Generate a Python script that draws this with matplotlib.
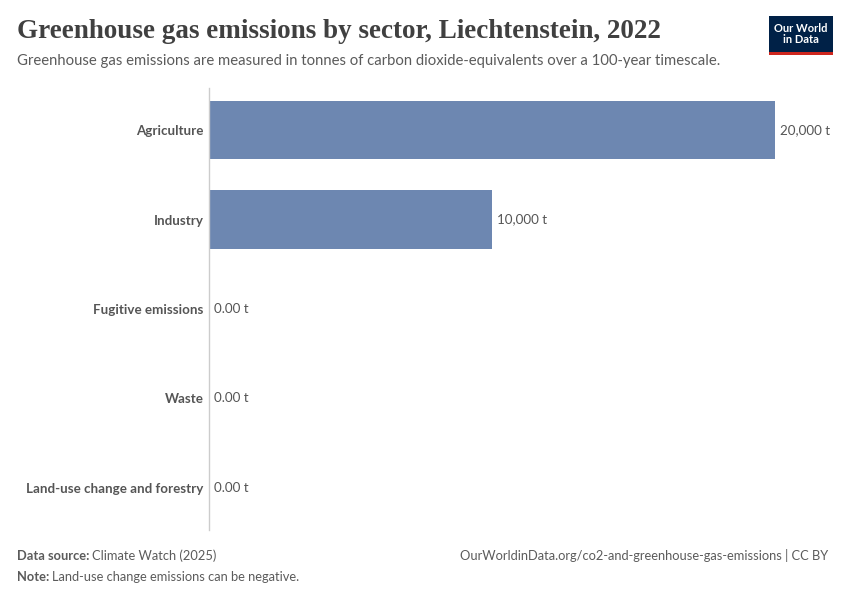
import matplotlib
matplotlib.use("Agg")
import matplotlib.pyplot as plt
from matplotlib.patches import Rectangle

sectors = ["Agriculture", "Industry", "Fugitive emissions", "Waste", "Land-use change and forestry"]
values = [20000, 10000, 0, 0, 0]
value_labels = ["20,000 t", "10,000 t", "0.00 t", "0.00 t", "0.00 t"]

title = "Greenhouse gas emissions by sector, Liechtenstein, 2022"
subtitle = "Greenhouse gas emissions are measured in tonnes of carbon dioxide-equivalents over a 100-year timescale."

W, H = 850, 600
fig = plt.figure(figsize=(W / 100, H / 100), dpi=100)
fig.patch.set_facecolor("white")

left, right, top, bottom = 209, 775, 88, 530
ax = fig.add_axes([left / W, 1 - bottom / H, (right - left) / W, (bottom - top) / H])

ypos = list(range(len(sectors)))
ax.barh(ypos, values, height=0.65, color="#6d87b1", zorder=2)
ax.set_xlim(0, 20000)
ax.set_ylim(4.47, -0.47)
for s in ["top", "right", "bottom"]:
    ax.spines[s].set_visible(False)
ax.spines["left"].set_color("#cccccc")
ax.spines["left"].set_linewidth(1)
ax.set_xticks([])
ax.set_yticks(ypos)
ax.set_yticklabels(sectors, fontfamily="Lato", fontweight="bold", fontsize=9.6, color="#555555")
ax.tick_params(axis="y", length=0, pad=4)

for y, v, lab in zip(ypos, values, value_labels):
    ax.annotate(lab, xy=(v, y), xytext=(3.5, 0), textcoords="offset points",
                va="center", ha="left", fontfamily="Lato", fontsize=9.6, color="#555555", clip_on=False)

fig.text(17 / W, 1 - 32 / H, title, fontfamily="Liberation Serif", fontsize=19.5,
         color="#404040", va="center", ha="left", fontweight="bold")
fig.text(17 / W, 1 - 61 / H, subtitle, fontfamily="Lato", fontsize=10.75, color="#5b5b5b",
         va="center", ha="left")

renderer = fig.canvas.get_renderer()
fs_foot = 9.3

def label_pair(x, y, bold, rest):
    t = fig.text(x / W, 1 - y / H, bold, fontfamily="Lato", fontsize=fs_foot, color="#5b5b5b",
                 fontweight="bold", va="center", ha="left")
    bb = t.get_window_extent(renderer=renderer)
    fig.text((bb.x1 + 3) / W, 1 - y / H, rest, fontfamily="Lato", fontsize=fs_foot, color="#5b5b5b",
             va="center", ha="left")

label_pair(17, 556, "Data source:", "Climate Watch (2025)")
label_pair(17, 577, "Note:", "Land-use change emissions can be negative.")
fig.text(828 / W, 1 - 556 / H, "OurWorldinData.org/co2-and-greenhouse-gas-emissions | CC BY",
         fontfamily="Lato", fontsize=fs_foot, color="#5b5b5b", va="center", ha="right")

# logo
lx0, ly0, lw, lh = 769, 16, 64, 36
fig.patches.append(Rectangle((lx0 / W, 1 - (ly0 + lh) / H), lw / W, lh / H,
                             transform=fig.transFigure, facecolor="#002147", edgecolor="none"))
fig.patches.append(Rectangle((lx0 / W, 1 - (ly0 + lh + 3) / H), lw / W, 3 / H,
                             transform=fig.transFigure, facecolor="#ce261e", edgecolor="none"))
fig.text((lx0 + lw / 2) / W, 1 - (ly0 + lh / 2) / H, "Our World\nin Data", fontfamily="Lato",
         fontweight="bold", fontsize=8, color="white", ha="center", va="center", linespacing=1.0)

fig.savefig("out.png", dpi=100, facecolor="white")
